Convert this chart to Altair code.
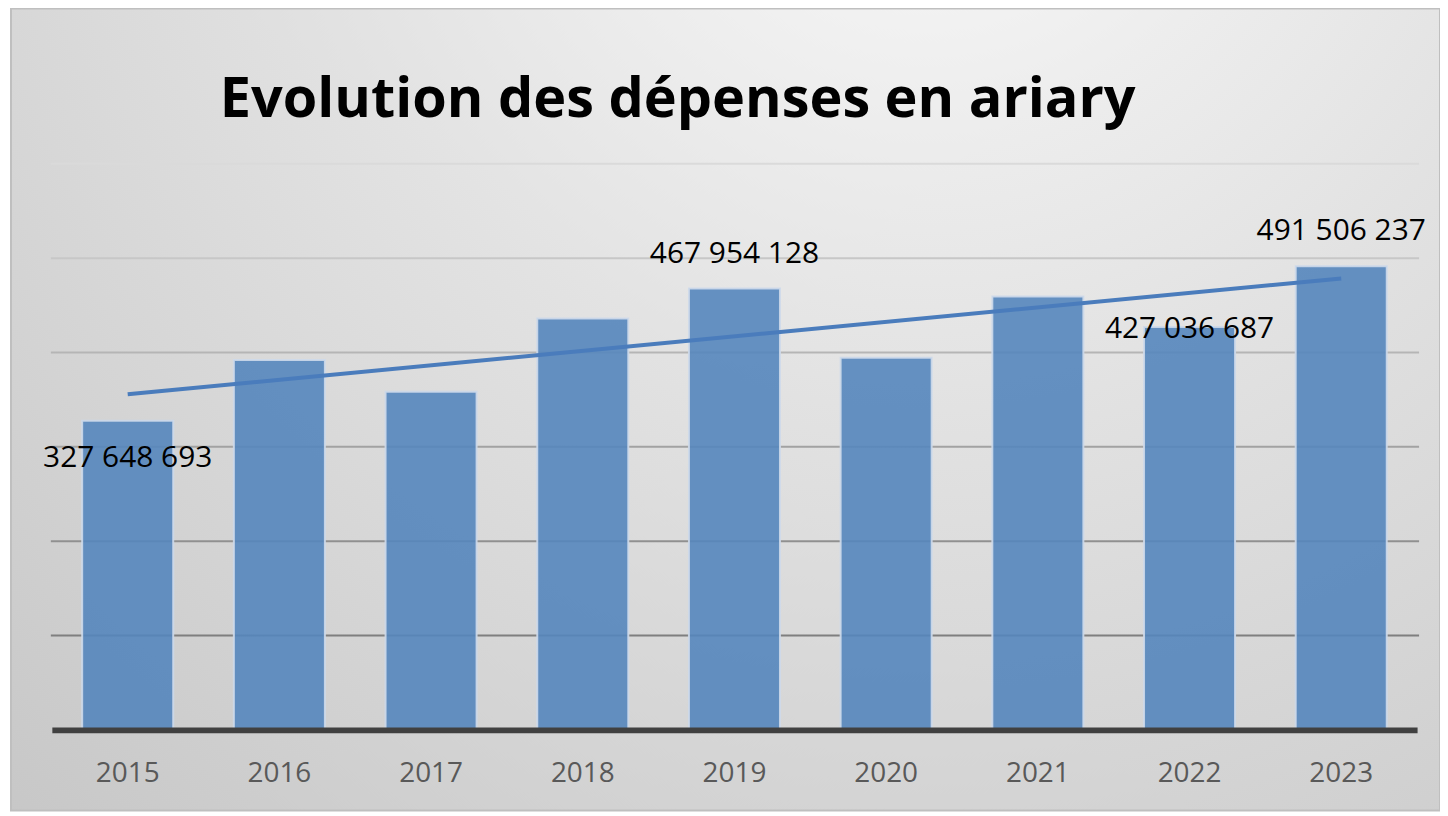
import altair as alt
import pandas as pd

# ---- data ----
years = [2015, 2016, 2017, 2018, 2019, 2020, 2021, 2022, 2023]
depenses = [327648693, 392000000, 358500000, 436000000, 467954128,
            394500000, 459500000, 427036687, 491506237]
labels_above = [2019, 2023]
labels_inside = [2015]
labels_at_top = [2022]
grid_values = [100000000, 200000000, 300000000, 400000000, 500000000, 600000000]
title_text = "Evolution des dépenses en ariary"

df = pd.DataFrame({"annee": years, "depenses": depenses})
df["label"] = [f"{v:,}".replace(",", " ") for v in depenses]
grid_df = pd.DataFrame({"v": grid_values})
bg_df = pd.DataFrame({"bg": [0]})

W, H = 1370, 568
PAD_L, PAD_T, PAD_R, PAD_B = 44, 155, 23, 81

yscale = alt.Scale(domain=[0, 600000000], nice=False, zero=True)
xscale = alt.Scale(paddingInner=0.4, paddingOuter=0.2)

xenc = alt.X("annee:O", scale=xscale, title=None,
             axis=alt.Axis(labelAngle=0, ticks=False, domainColor="#404040",
                           domainWidth=6, labelFont="Open Sans", labelFontSize=28,
                           labelColor="#595959", labelPadding=30, zindex=1, grid=False))
yenc = alt.Y("depenses:Q", scale=yscale, axis=None)

background = alt.Chart(bg_df).mark_rect(
    color=alt.RadialGradient(
        gradient="radial", x1=0.64, y1=0.05, x2=0.64, y2=0.05, r1=0, r2=1.0,
        stops=[alt.GradientStop(offset=0, color="#fbfbfb"),
               alt.GradientStop(offset=0.45, color="#e2e2e2"),
               alt.GradientStop(offset=1, color="#c6c6c6")]),
    stroke="#bfbfbf", strokeWidth=2
).encode(
    x=alt.value(-41), x2=alt.value(W + PAD_R),
    y=alt.value(-156), y2=alt.value(H + PAD_B)
)

grid = alt.Chart(grid_df).mark_rule(strokeWidth=2).encode(
    y=alt.Y("v:Q", scale=yscale, axis=None),
    x=alt.value(-1), x2=alt.value(W + 2),
    color=alt.Color("v:Q", scale=alt.Scale(domain=[100000000, 600000000],
                                            range=["#7f7f7f", "#dadada"]), legend=None)
)

base = alt.Chart(df)

bars = base.mark_bar(color="#5586bd", fillOpacity=0.9, stroke="#cdd9ea",
                     strokeWidth=2, strokeOpacity=0.9).encode(x=xenc, y=yenc)

trend = base.transform_regression("annee", "depenses").mark_line(
    color="#4a7cbc", strokeWidth=4
).encode(x=alt.X("annee:O", scale=xscale), y=alt.Y("depenses:Q", scale=yscale))

txt_style = dict(font="Open Sans", fontSize=30, color="black", baseline="middle", align="center")

lab_above = base.transform_filter(
    alt.FieldOneOfPredicate(field="annee", oneOf=labels_above)
).mark_text(dy=-35, **txt_style).encode(x=alt.X("annee:O", scale=xscale),
                                          y=alt.Y("depenses:Q", scale=yscale), text="label:N")
lab_inside = base.transform_filter(
    alt.FieldOneOfPredicate(field="annee", oneOf=labels_inside)
).mark_text(dy=37, **txt_style).encode(x=alt.X("annee:O", scale=xscale),
                                         y=alt.Y("depenses:Q", scale=yscale), text="label:N")
lab_top = base.transform_filter(
    alt.FieldOneOfPredicate(field="annee", oneOf=labels_at_top)
).mark_text(dy=2, **txt_style).encode(x=alt.X("annee:O", scale=xscale),
                                        y=alt.Y("depenses:Q", scale=yscale), text="label:N")

chart = alt.layer(background, grid, bars, trend, lab_above, lab_inside, lab_top).properties(
    width=W, height=H,
    title=alt.TitleParams(title_text, font="Open Sans", fontSize=56, fontWeight="bold",
                          color="black", anchor="middle", frame="group", dx=-57,
                          offset=-166, baseline="alphabetic"),
    padding={"left": PAD_L, "top": PAD_T, "right": PAD_R, "bottom": PAD_B},
    autosize=alt.AutoSizeParams(type="none"),
).configure_view(stroke=None)

chart.save("out.html", embed_options={"renderer": "svg", "actions": False})
